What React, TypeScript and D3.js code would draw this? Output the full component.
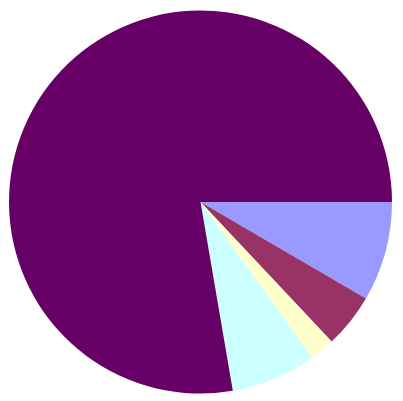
import React from "react";
import * as d3 from "d3";

const categories = ["A", "B", "C", "D", "E"];
const values = [8.4, 4.6, 2.1, 7.2, 77.7];
const colors = ["#9999FF", "#993366", "#FFFFCC", "#CCFFFF", "#660066"];

export default function App() {
  const width = 403;
  const height = 401;
  const cx = 200.5;
  const cy = 202;
  const r = 191.5;
  const pie = d3
    .pie<number>()
    .sort(null)
    .startAngle(Math.PI / 2)
    .endAngle(Math.PI / 2 + 2 * Math.PI);
  const arcs = pie(values);
  const arc = d3.arc<d3.PieArcDatum<number>>().innerRadius(0).outerRadius(r);
  return (
    <svg
      width={width}
      height={height}
      style={{ position: "absolute", left: 0, top: 0, background: "#fff" }}
    >
      <g transform={`translate(${cx},${cy})`}>
        {arcs.map((a, i) => (
          <path key={categories[i]} d={arc(a) || ""} fill={colors[i]} />
        ))}
      </g>
    </svg>
  );
}
